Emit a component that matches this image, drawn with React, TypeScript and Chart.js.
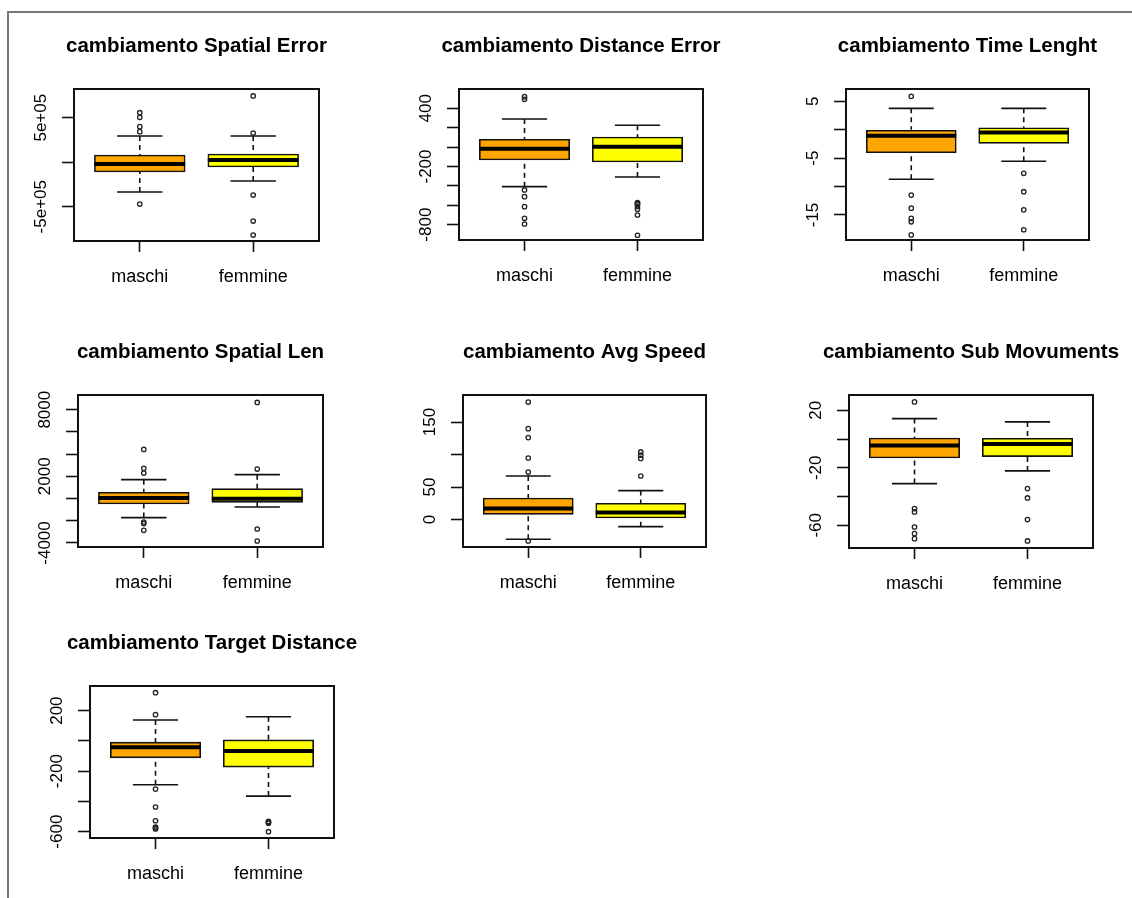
import React, { useEffect, useRef } from 'react';
import { Chart, registerables } from 'chart.js';

Chart.register(...registerables);

const groups = ['maschi', 'femmine'];
const groupPositions = [1, 2];
const boxColors = ['#FFA500', '#FFFF00'];

// stats order: [lower whisker, Q1, median, Q3, upper whisker]
const spatialErrorMaschi = [-335000, -110000, -20000, 81000, 294000];
const spatialErrorFemmine = [-211000, -54000, 25000, 92000, 294000];
const spatialErrorOutMaschi = [556000, 504000, 399000, 343000, -470000];
const spatialErrorOutFemmine = [744000, 328000, -369000, -661000, -818000];
const spatialErrorTicks = [500000, 0, -500000];
const spatialErrorTickLabels = ['5e+05', '', '-5e+05'];
const spatialErrorRange = [-885000, 822000];

const distanceErrorMaschi = [-408, -133, -16, 80, 290];
const distanceErrorFemmine = [-308, -154, 4, 104, 225];
const distanceErrorOutMaschi = [520, 493, -442, -511, -614, -734, -793];
const distanceErrorOutFemmine = [-573, -581, -590, -612, -641, -700, -909];
const distanceErrorTicks = [400, 200, 0, -200, -400, -600, -800];
const distanceErrorTickLabels = ['400', '', '', '-200', '', '', '-800'];
const distanceErrorRange = [-958, 599];

const timeLenghtMaschi = [-8.72, -4.05, -1.05, 0, 3.76];
const timeLenghtFemmine = [-5.56, -2.4, -0.5, 0.35, 3.76];
const timeLenghtOutMaschi = [5.87, -11.5, -13.8, -15.6, -16.2, -18.5];
const timeLenghtOutFemmine = [-7.67, -10.9, -14.1, -17.6];
const timeLenghtTicks = [5, 0, -5, -10, -15];
const timeLenghtTickLabels = ['5', '', '-5', '', '-15'];
const timeLenghtRange = [-19.4, 7.16];

const spatialLenMaschi = [-1718, -495, 45, 558, 1700];
const spatialLenFemmine = [-765, -342, -30, 890, 2150];
const spatialLenOutMaschi = [4426, 2717, 2294, -2114, -2258, -2860];
const spatialLenOutFemmine = [8653, 2654, -2744, -3823];
const spatialLenTicks = [8000, 6000, 4000, 2000, 0, -2000, -4000];
const spatialLenTickLabels = ['8000', '', '', '2000', '', '', '-4000'];
const spatialLenRange = [-4363, 9322];

const avgSpeedMaschi = [-30.3, 8.1, 16.9, 33.2, 67];
const avgSpeedFemmine = [-10.8, 2.5, 11, 25, 44.6];
const avgSpeedOutMaschi = [180.7, 139.8, 126, 94.7, 73.1, -32.9];
const avgSpeedOutFemmine = [104, 99, 94, 67];
const avgSpeedTicks = [150, 100, 50, 0];
const avgSpeedTickLabels = ['150', '', '50', '0'];
const avgSpeedRange = [-42.1, 191.5];

const subMovMaschi = [-31, -13.2, -4.6, 0.7, 14.2];
const subMovFemmine = [-22.2, -12.2, -3.4, 0.5, 11.9];
const subMovOutMaschi = [25.8, -48.4, -50.7, -61.2, -65.8, -69.3];
const subMovOutFemmine = [-34.5, -41, -56, -70.9];
const subMovTicks = [20, 0, -20, -40, -60];
const subMovTickLabels = ['20', '', '-20', '', '-60'];
const subMovRange = [-75.8, 30.6];

const targetDistMaschi = [-290, -112, -41.6, -8.6, 138.5];
const targetDistFemmine = [-364.8, -173.5, -66, 6.6, 160];
const targetDistOutMaschi = [318.6, 173.5, -318.6, -437, -527.7, -569, -574, -582];
const targetDistOutFemmine = [-532, -538, -544, -600];
const targetDistTicks = [200, 0, -200, -400, -600];
const targetDistTickLabels = ['200', '', '-200', '', '-600'];
const targetDistRange = [-641.8, 362.8];

const FONT = '"Liberation Sans", Arial, Helvetica, sans-serif';
const PAD_L = 66;
const PAD_T = 80;
const PAD_R = 40;
const PAD_B = 55;

type PanelCfg = {
  title: string;
  stats: number[][];
  outliers: number[][];
  ticks: number[];
  tickLabels: string[];
  range: number[];
  plot: number[]; // [x1, y1, x2, y2] plot box on page
};

const panels: PanelCfg[] = [
  { title: 'cambiamento Spatial Error', stats: [spatialErrorMaschi, spatialErrorFemmine], outliers: [spatialErrorOutMaschi, spatialErrorOutFemmine], ticks: spatialErrorTicks, tickLabels: spatialErrorTickLabels, range: spatialErrorRange, plot: [74, 89, 319, 241] },
  { title: 'cambiamento Distance Error', stats: [distanceErrorMaschi, distanceErrorFemmine], outliers: [distanceErrorOutMaschi, distanceErrorOutFemmine], ticks: distanceErrorTicks, tickLabels: distanceErrorTickLabels, range: distanceErrorRange, plot: [459, 89, 703, 240] },
  { title: 'cambiamento Time Lenght', stats: [timeLenghtMaschi, timeLenghtFemmine], outliers: [timeLenghtOutMaschi, timeLenghtOutFemmine], ticks: timeLenghtTicks, tickLabels: timeLenghtTickLabels, range: timeLenghtRange, plot: [846, 89, 1089, 240] },
  { title: 'cambiamento Spatial Len', stats: [spatialLenMaschi, spatialLenFemmine], outliers: [spatialLenOutMaschi, spatialLenOutFemmine], ticks: spatialLenTicks, tickLabels: spatialLenTickLabels, range: spatialLenRange, plot: [78, 395, 323, 547] },
  { title: 'cambiamento Avg Speed', stats: [avgSpeedMaschi, avgSpeedFemmine], outliers: [avgSpeedOutMaschi, avgSpeedOutFemmine], ticks: avgSpeedTicks, tickLabels: avgSpeedTickLabels, range: avgSpeedRange, plot: [463, 395, 706, 547] },
  { title: 'cambiamento Sub Movuments', stats: [subMovMaschi, subMovFemmine], outliers: [subMovOutMaschi, subMovOutFemmine], ticks: subMovTicks, tickLabels: subMovTickLabels, range: subMovRange, plot: [849, 395, 1093, 548] },
  { title: 'cambiamento Target Distance', stats: [targetDistMaschi, targetDistFemmine], outliers: [targetDistOutMaschi, targetDistOutFemmine], ticks: targetDistTicks, tickLabels: targetDistTickLabels, range: targetDistRange, plot: [90, 686, 334, 838] },
];

const rPlugin = {
  id: 'rBoxplot',
  beforeDatasetsDraw(chart: any, _args: any, opts: any) {
    const xs = chart.scales.x;
    const ys = chart.scales.y;
    const ctx = chart.ctx;
    ctx.save();
    ctx.strokeStyle = '#111';
    ctx.lineWidth = 1.6;
    (opts.stats as number[][]).forEach((s, i) => {
      const p = groupPositions[i];
      const x = xs.getPixelForValue(p);
      const cl = xs.getPixelForValue(p - 0.2);
      const cr = xs.getPixelForValue(p + 0.2);
      ctx.setLineDash([5, 4]);
      ctx.beginPath();
      ctx.moveTo(x, ys.getPixelForValue(s[0]));
      ctx.lineTo(x, ys.getPixelForValue(s[1]));
      ctx.moveTo(x, ys.getPixelForValue(s[4]));
      ctx.lineTo(x, ys.getPixelForValue(s[3]));
      ctx.stroke();
      ctx.setLineDash([]);
      ctx.beginPath();
      ctx.moveTo(cl, ys.getPixelForValue(s[0]));
      ctx.lineTo(cr, ys.getPixelForValue(s[0]));
      ctx.moveTo(cl, ys.getPixelForValue(s[4]));
      ctx.lineTo(cr, ys.getPixelForValue(s[4]));
      ctx.stroke();
    });
    ctx.restore();
  },
  afterDatasetDraw(chart: any, args: any, opts: any) {
    if (args.meta.type !== 'bar') return;
    const xs = chart.scales.x;
    const ys = chart.scales.y;
    const ctx = chart.ctx;
    ctx.save();
    ctx.strokeStyle = '#000';
    ctx.lineWidth = 4;
    ctx.lineCap = 'butt';
    (opts.stats as number[][]).forEach((s, i) => {
      const p = groupPositions[i];
      const y = ys.getPixelForValue(s[2]);
      ctx.beginPath();
      ctx.moveTo(xs.getPixelForValue(p - 0.4), y);
      ctx.lineTo(xs.getPixelForValue(p + 0.4), y);
      ctx.stroke();
    });
    ctx.restore();
  },
  afterDraw(chart: any, _args: any, opts: any) {
    const ca = chart.chartArea;
    const ys = chart.scales.y;
    const ctx = chart.ctx;
    ctx.save();
    ctx.strokeStyle = '#111';
    ctx.lineWidth = 2;
    ctx.strokeRect(ca.left, ca.top, ca.right - ca.left, ca.bottom - ca.top);
    ctx.fillStyle = '#000';
    ctx.font = `bold 20.5px ${FONT}`;
    ctx.textAlign = 'center';
    ctx.textBaseline = 'alphabetic';
    ctx.fillText(opts.title, (ca.left + ca.right) / 2, ca.top - 37.5);
    const fs = 17;
    ctx.font = `${fs}px ${FONT}`;
    (opts.ticks as number[]).forEach((v, i) => {
      const label = opts.tickLabels[i];
      if (!label) return;
      const y = ys.getPixelForValue(v);
      ctx.save();
      ctx.translate(ca.left - 34 + 0.358 * fs, y);
      ctx.rotate(-Math.PI / 2);
      ctx.textAlign = 'center';
      ctx.fillText(label, 0, 0);
      ctx.restore();
    });
    ctx.restore();
  },
};

function Panel({ cfg }: { cfg: PanelCfg }) {
  const ref = useRef<HTMLCanvasElement | null>(null);
  const [x1, y1, x2, y2] = cfg.plot;
  const plotW = x2 - x1;
  const plotH = y2 - y1;
  const W = PAD_L + plotW + PAD_R;
  const H = PAD_T + plotH + PAD_B;

  useEffect(() => {
    if (!ref.current) return;
    const boxData = groupPositions.map((x, i) => ({ x, y: [cfg.stats[i][1], cfg.stats[i][3]] }));
    const outData: { x: number; y: number }[] = [];
    cfg.outliers.forEach((arr, i) => arr.forEach((v) => outData.push({ x: groupPositions[i], y: v })));
    const chart = new Chart(ref.current, {
      type: 'bar',
      data: {
        datasets: [
          {
            type: 'bar',
            data: boxData as any,
            backgroundColor: boxColors,
            borderColor: '#111',
            borderWidth: 1.6,
            borderSkipped: false,
            barThickness: (plotW * 0.8) / 2.16,
            order: 2,
          } as any,
          {
            type: 'scatter',
            data: outData as any,
            pointStyle: 'circle',
            pointRadius: 2.2,
            borderWidth: 1.3,
            borderColor: '#222',
            backgroundColor: 'rgba(0,0,0,0)',
            order: 1,
          } as any,
        ],
      },
      options: {
        responsive: false,
        animation: false,
        events: [],
        layout: { padding: { top: PAD_T, right: PAD_R, left: 0, bottom: 0 } },
        plugins: {
          legend: { display: false },
          tooltip: { enabled: false },
          title: { display: false },
          rBoxplot: { stats: cfg.stats, title: cfg.title, ticks: cfg.ticks, tickLabels: cfg.tickLabels },
        } as any,
        scales: {
          x: {
            type: 'linear',
            min: 0.42,
            max: 2.58,
            offset: false,
            grid: { display: true, drawOnChartArea: false, drawTicks: true, tickLength: 11, tickColor: '#111', tickWidth: 1.6, offset: false },
            border: { display: false },
            afterBuildTicks: (s: any) => {
              s.ticks = groupPositions.map((v) => ({ value: v }));
            },
            ticks: {
              autoSkip: false,
              maxRotation: 0,
              minRotation: 0,
              padding: 14,
              color: '#000',
              font: { family: FONT, size: 18 },
              callback: (_v: any, i: number) => groups[i],
            },
            afterFit: (s: any) => {
              s.height = PAD_B;
              s.paddingLeft = 0;
              s.paddingRight = 0;
            },
          },
          y: {
            type: 'linear',
            min: cfg.range[0],
            max: cfg.range[1],
            grid: { display: true, drawOnChartArea: false, drawTicks: true, tickLength: 12, tickColor: '#111', tickWidth: 1.6 },
            border: { display: false },
            afterBuildTicks: (s: any) => {
              s.ticks = cfg.ticks.map((v) => ({ value: v }));
            },
            ticks: { display: false },
            afterFit: (s: any) => {
              s.width = PAD_L;
              s.paddingTop = 0;
              s.paddingBottom = 0;
            },
          },
        } as any,
      },
      plugins: [rPlugin as any],
    });
    return () => chart.destroy();
  }, []);

  return (
    <canvas
      ref={ref}
      width={W}
      height={H}
      style={{ position: 'absolute', left: x1 - PAD_L, top: y1 - PAD_T, width: W + 'px', height: H + 'px' }}
    />
  );
}

export default function App() {
  return (
    <div style={{ position: 'absolute', left: 0, top: 0, width: 1132, height: 898, overflow: 'hidden', background: '#fff' }}>
      <div style={{ position: 'absolute', left: 7, top: 11, width: 1200, height: 1000, borderTop: '2px solid #777', borderLeft: '2px solid #777' }} />
      {panels.map((p) => (
        <Panel key={p.title} cfg={p} />
      ))}
    </div>
  );
}
